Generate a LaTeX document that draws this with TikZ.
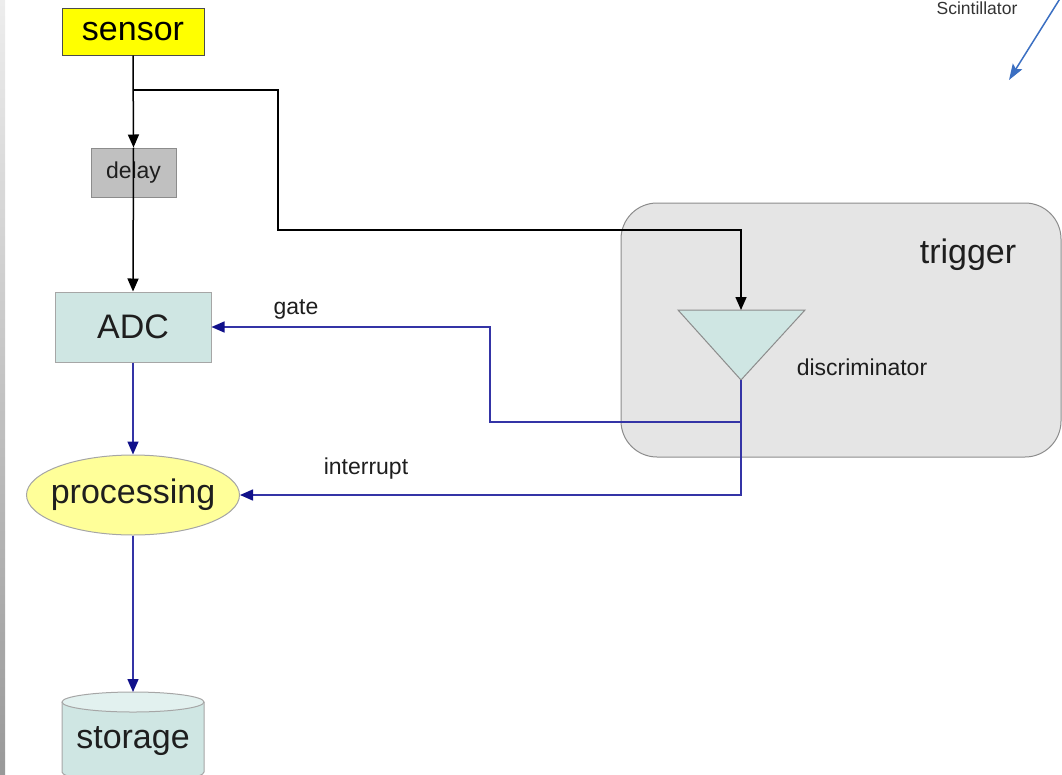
\documentclass[tikz,border=0pt]{standalone}
\usepackage{fontspec}
\setmainfont{Liberation Sans}
\usetikzlibrary{arrows.meta,shapes.geometric}

\definecolor{sensoryellow}{HTML}{FFFF00}
\definecolor{procyellow}{HTML}{FFFF99}
\definecolor{delaygray}{HTML}{C0C0C0}
\definecolor{paleteal}{HTML}{CFE6E3}
\definecolor{paletealtop}{HTML}{E2F1EF}
\definecolor{triggergray}{HTML}{E5E5E5}
\definecolor{edgegray}{HTML}{8C8C8C}
\definecolor{signalblue}{HTML}{3434A6}
\definecolor{tipblue}{HTML}{10108A}
\definecolor{rayblue}{HTML}{3B6FC2}
\definecolor{inkgray}{HTML}{1E1E1E}

\begin{document}
\begin{tikzpicture}[x=1pt,y=-1pt,
  bigfont/.style={font=\fontsize{34}{40}\selectfont},
  midfont/.style={font=\fontsize{23}{28}\selectfont},
  block/.style={draw=edgegray, line width=1pt, inner sep=0pt, text=inkgray},
  blackflow/.style={draw=black, line width=1.5pt, -{Triangle[length=13pt,width=11pt]}},
  blueflow/.style={draw=signalblue, line width=1.5pt,
    -{Triangle[length=13pt,width=11pt,fill=tipblue,color=tipblue]}},
  plainlabel/.style={midfont, text=inkgray, inner sep=0pt}]

\useasboundingbox (0,0) rectangle (1062,774);

% window edge strip on the left
\shade[top color=black!7, bottom color=black!40] (0,0) rectangle (5,774);

% trigger region
\node[block, draw=edgegray, fill=triggergray, rounded corners=36pt,
      minimum width=440pt, minimum height=254pt] (trigger) at (841,330) {};
\node[bigfont, text=inkgray, inner sep=0pt] (triggerlabel) at (968,255) {trigger};

% discriminator (downward triangle)
\filldraw[fill=paleteal, draw=edgegray, line width=1pt]
  (678,310) -- (805,310) -- (741,380) -- cycle;
\coordinate (disctop) at (741,310);
\coordinate (discbot) at (741,380);
\node[plainlabel] (disclabel) at (862,367) {discriminator};

% signal chain blocks
\node[block, draw=black!70, fill=sensoryellow, bigfont, text=black,
      minimum width=142pt, minimum height=47pt] (sensor) at (133,31.5)
      {\raisebox{-2pt}{sensor}};
\node[block, draw=black!45, fill=delaygray, midfont,
      minimum width=85pt, minimum height=49pt] (delay) at (133.5,172.5)
      {\raisebox{-2pt}{delay}};
\node[block, draw=black!35, fill=paleteal, bigfont,
      minimum width=156pt, minimum height=70pt] (adc) at (133,327) {ADC};
\node[ellipse, block, draw=black!35, fill=procyellow, bigfont,
      minimum width=213pt, minimum height=80pt] (proc) at (133,495)
      {\makebox[0pt]{processing}};

% storage cylinder
\filldraw[fill=paleteal, draw=black!35, line width=1pt]
  (62,702) -- (62,772) arc[start angle=180, end angle=0, x radius=71, y radius=10]
  -- (204,702);
\filldraw[fill=paletealtop, draw=black!35, line width=1pt]
  (133,702) ellipse[x radius=71, y radius=10];
\coordinate (stortop) at (133,692);
\node[bigfont, text=inkgray, inner sep=0pt] (storage) at (133,741) {storage};

% raw signal: sensor through delay into the ADC
\draw[blackflow] (sensor.south) -- (delay.north);
\draw[blackflow] (delay.north) -- (adc.north);

% split towards the discriminator
\coordinate (split) at (133,90);
\draw[blackflow] (split) -- (278,90) -- (278,230) -| (disctop);

% trigger outputs
\coordinate (tap) at (741,422);
\draw[blueflow] (discbot) |- (proc.east);
\draw[blueflow] (tap) -- (490,422) |- (adc.east);
\node[plainlabel] (gatelabel) at (296,309) {gate};
\node[plainlabel] (intlabel) at (366,469) {interrupt};

% data path
\draw[blueflow] (adc.south) -- (proc.north);
\draw[blueflow] (proc.south) -- (stortop);

% incoming radiation
\coordinate (rayfrom) at (1061,-3);
\coordinate (rayto) at (1009,80);
\draw[draw=rayblue, line width=1.5pt,
      -{Stealth[length=16pt,width=11pt,inset=3pt]}] (rayfrom) -- (rayto);
\node[font=\fontsize{17.5}{20}\selectfont, text=black!80, inner sep=0pt]
  (scintlabel) at (977,8) {Scintillator};

\end{tikzpicture}
\end{document}
